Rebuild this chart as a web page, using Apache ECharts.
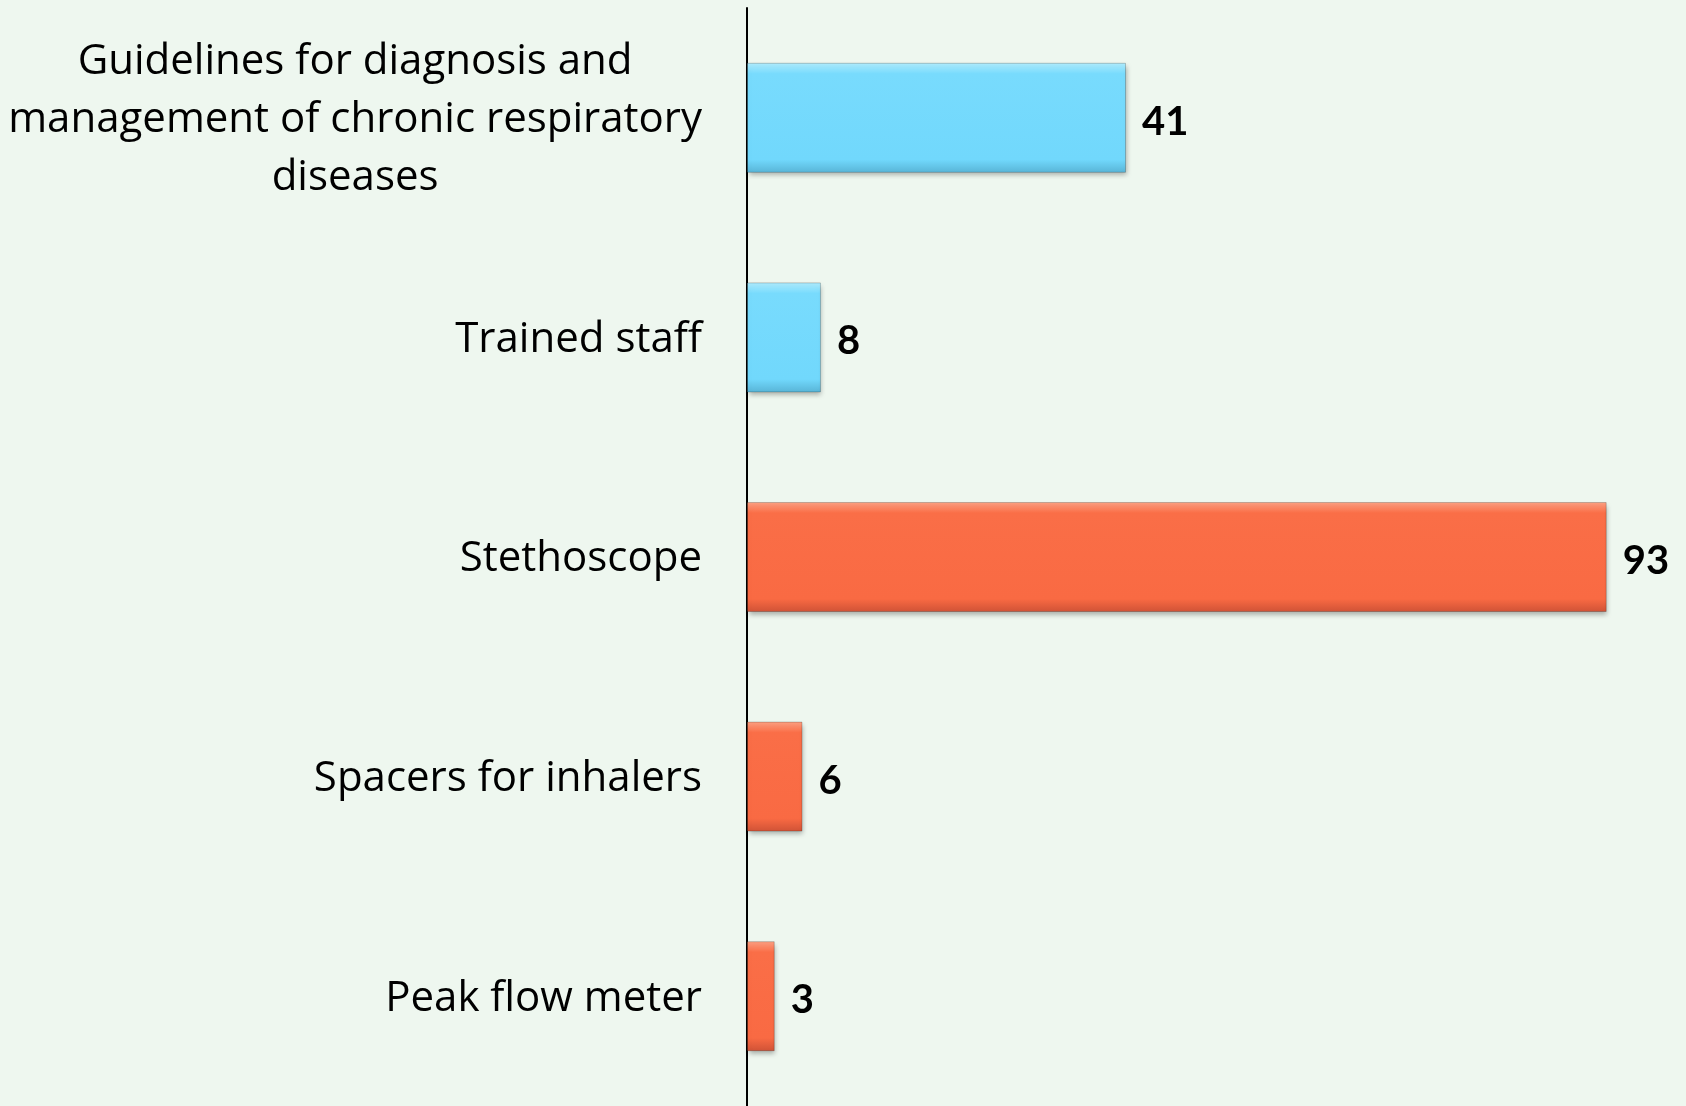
<!DOCTYPE html>
<html>
<head>
<meta charset="utf-8">
<script src="https://cdn.jsdelivr.net/npm/echarts@6/dist/echarts.min.js"></script>
<style>
  html, body { margin: 0; padding: 0; background: #EEF7EF; }
  #chart { width: 1686px; height: 1106px; }
</style>
</head>
<body>
<div id="chart"></div>
<script>
    'use strict';

    // categories, top to bottom
    var categories = [
        'Guidelines for diagnosis and\nmanagement of chronic respiratory\ndiseases',
        'Trained staff',
        'Stethoscope',
        'Spacers for inhalers',
        'Peak flow meter'
    ];
    var values = [41, 8, 93, 6, 3];

    // first two bars blue, rest orange
    function barFill(i) {
        if (i < 2) return {
            type: 'linear', x: 0, y: 0, x2: 0, y2: 1,
            colorStops: [
                { offset: 0, color: '#B0ECFD' },
                { offset: 0.1, color: '#78DBFD' },
                { offset: 0.88, color: '#71D8FC' },
                { offset: 1, color: '#58B4D6' }
            ]
        };
        return {
            type: 'linear', x: 0, y: 0, x2: 0, y2: 1,
            colorStops: [
                { offset: 0, color: '#FDA283' },
                { offset: 0.1, color: '#FA6E47' },
                { offset: 0.88, color: '#F96A43' },
                { offset: 1, color: '#CF5236' }
            ]
        };
    }

    var chart = echarts.init(document.getElementById('chart'), null, { renderer: 'canvas' });

    chart.setOption({
        backgroundColor: '#EEF7EF',
        animation: false,
        grid: { left: 747, top: 8, height: 1100, width: 924.4, containLabel: false },
        xAxis: {
            type: 'value', min: 0, max: 100,
            show: false
        },
        yAxis: {
            type: 'category',
            inverse: true,
            data: categories,
            axisLine: { show: true, lineStyle: { color: '#000', width: 2 } },
            axisTick: { show: false },
            splitLine: { show: false },
            axisLabel: {
                margin: 45,
                padding: [5, 0, 0, 0],
                fontFamily: 'Open Sans',
                fontSize: 42,
                color: '#000',
                lineHeight: 58,
                formatter: function (v) {
                    return v.split('\n').map(function (s) { return '{c|' + s + '}'; }).join('\n');
                },
                rich: {
                    c: { align: 'center', fontFamily: 'Open Sans', fontSize: 42, color: '#000', lineHeight: 58 }
                }
            }
        },
        series: [{
            type: 'bar',
            data: values,
            barWidth: 110,
            itemStyle: {
                color: function (p) { return barFill(p.dataIndex); },
                borderColor: 'rgba(0,0,0,0.2)',
                borderWidth: 1,
                shadowColor: 'rgba(0,0,0,0.3)',
                shadowBlur: 5,
                shadowOffsetY: 3,
                shadowOffsetX: 1
            },
            label: {
                show: true,
                position: 'right',
                distance: 16,
                offset: [0, 4],
                fontFamily: 'Lato',
                fontWeight: 'bold',
                fontSize: 40,
                color: '#000'
            }
        }]
    });
</script>
</body>
</html>
